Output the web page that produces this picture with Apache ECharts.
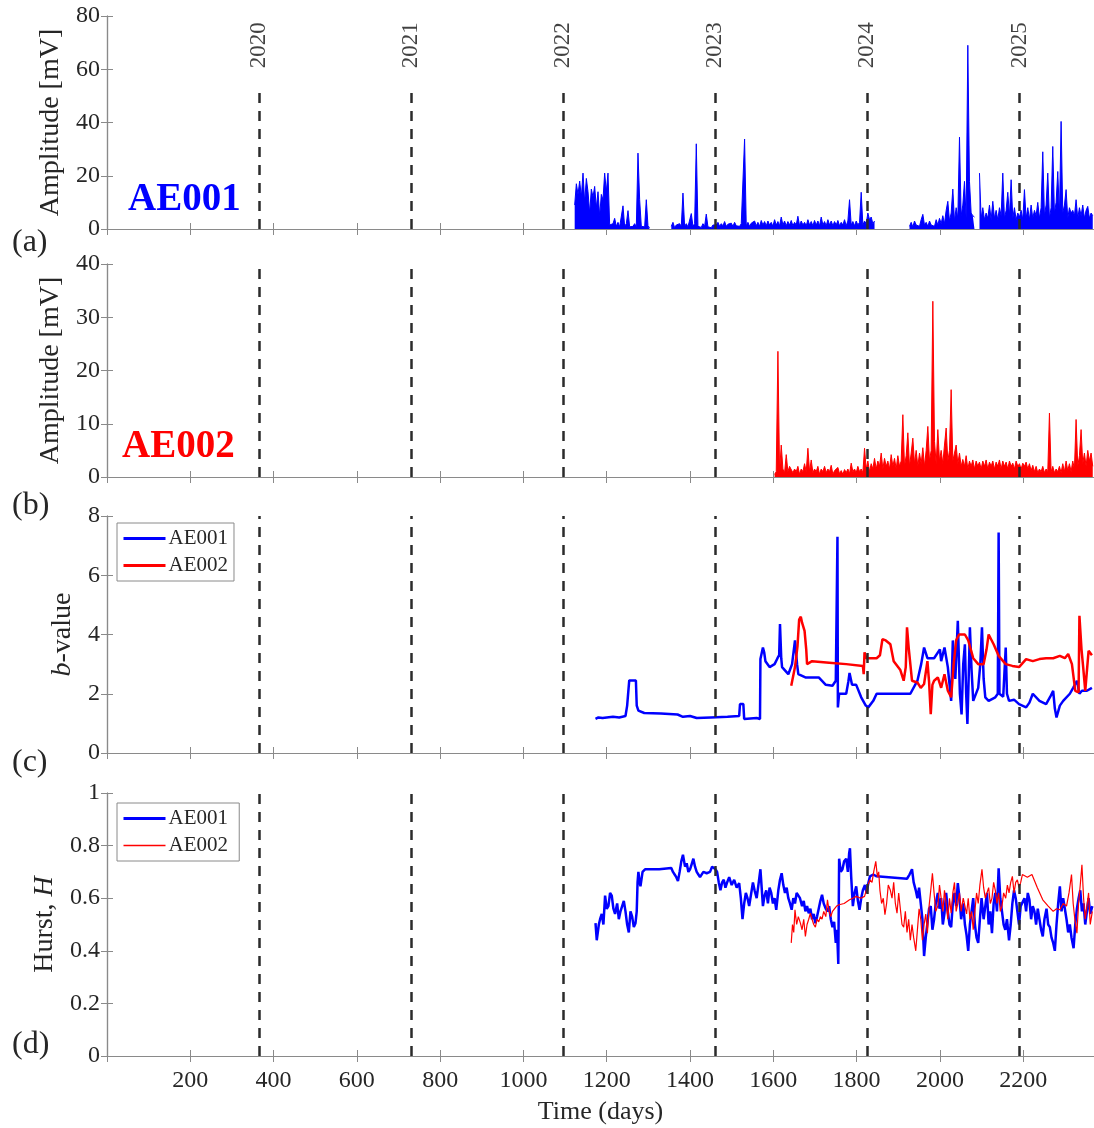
<!DOCTYPE html>
<html><head><meta charset="utf-8">
<script src="https://cdn.jsdelivr.net/npm/echarts@6/dist/echarts.min.js"></script>
<style>html,body{margin:0;padding:0;background:#fff}#c{width:1094px;height:1128px}</style>
</head><body><div id="c"></div><script>
// ---------------- DATA ----------------
const yearDays = [365, 730, 1096, 1461, 1826, 2191];
const yearLabels = ['2020', '2021', '2022', '2023', '2024', '2025'];

// AE001 amplitude (mV), sampled every 4 days from each segment start
const ampStep = 4;
const ae001AmpStarts = [1123, 1355, 1927, 2095];
const ae001AmpSeg1 = [9,17,13,18,12,21,10,19,14,6,15,12,16,8,14,5,13,11,21,14,21,
  1.5,0.8,2,4,1,2.5,0.8,1.5,8.7,1,2,6.9,0.8,1.5,1,2,0.8,28.5,11,1,1.5,0.8,11,1.2,0.5];
const ae001AmpSeg2 = [1,2.5,0.5,1.5,0.8,2,1,13.5,1,2,0.8,1.5,5.8,1,2,32,1,1.5,0.6,2,1,5.6,0.8,1.2,0.5,1.5,0.8,
  1.5,2.5,1,2,1.2,2.8,1,1.8,1.2,2.2,
  1,2.5,1.2,1.8,1,2,1.5,33.8,1.2,2.5,
  1,2.2,1.5,3,1.2,2.5,1,3.2,1.5,2.8,
  1.2,3,1.5,2.5,1,3.5,1.5,2.8,1.2,4.5,
  1.5,3,1.2,2.8,1.5,3.2,1.2,2.5,1.5,4.8,
  1.2,3,1.5,2.5,1.2,3.5,1.5,2.8,1.2,3.2,
  1.5,3,1.2,4.5,1.5,2.8,1.2,3.5,1.5,3,
  1.2,2.8,1.5,3.2,1.2,2.5,1.5,3.5,1.2,3,
  11,1.5,2.8,1.2,3,1.5,2.5,13.8,1.5,3,
  2,6,3.5,4.5,2,3];
const ae001AmpSeg3 = [1,2.5,0.8,3,1.5,2,1,3.5,5.5,1.5,
  2.5,1,3,1.5,2,1,3.5,1.5,4,2,
  5,2,7,10.4,3,6,15,3,8,4,
  34.5,5,9,17.9,4,69,17.9,6,5,4.5];
const ae001AmpSeg4 = [21,4,8,3.5,6,4,9,3.5,10.4,4,
  7,3.5,8,5,21,4,7,13.8,5,18.5,
  4,8,3.5,6,4.5,7,3.5,14.8,4,8,
  3.5,9,4,7,5,10,4,8,29,5,
  9,21,4,8,31,6,10,21.6,5,40.4,
  6,9,14.8,4,8,6,7,5,11,4,
  8,5,9,4,7,8.5,4,6,5];

// AE002 amplitude (mV), every 4 days from 1603
const ae002AmpStarts = [1603];
const ae002AmpSeg1 = [0.5,1,23.6,1,6,1.5,0.8,4.2,1,2,
  2.3,0.8,1.5,1,2,0.5,1.5,1,2.5,1,
  5.4,1,3.2,0.8,1.5,1,2,0.5,1.5,1,
  2,0.8,1.5,1,2.2,0.5,1.2,1,1.8,0.6,
  1.2,0.5,1.4,0.8,1.5,0.6,2.6,1,1.5,0.8,
  2,1,1.5,0.8,5.4,1.5,3,1,2.5,1.5,
  3.5,1.5,3,2,4.5,1.5,3.5,2,3,1.5,
  4.2,2,3.5,1.5,4,2,3,11.7,2,4,
  8.3,2,4.5,7.3,2.5,5,2,4.5,2.5,5.5,
  2,5,9.5,3,5,33,6.7,2.5,8.9,3,
  5,2.5,6,9.2,3,5,16.4,3,4.5,6,
  2.5,4.5,2,3.3,2,4,1.5,3,2,3.2,
  1.5,3,2,2.8,1.5,3,2,3.2,1.5,2.8,
  2,3,1.5,2.8,2,3.2,1.5,3,2,2.8,
  1.5,3,2,2.6,1.5,3,2,2.5,1.5,2.6,
  2,2.8,1.5,2.5,1.2,2.2,1,2,0.8,1.5,
  1,2,0.8,1.5,1,12,1,2,0.8,1.5,
  1,2,0.8,2.5,1,3,1.2,2.5,1,3,
  1.5,10.8,2,4,8.9,2.5,4.5,2,5,3,
  4.5,2];

// b-value [day, b]
const bAE001 = [[1173,1.15],[1180,1.2],[1190,1.18],[1200,1.2],[1215,1.22],[1230,1.2],[1245,1.25],[1249,1.6],[1252,1.6],[1254,2.45],[1270,2.45],[1272,1.6],[1276,1.43],[1290,1.35],[1330,1.33],[1370,1.3],[1383,1.22],[1400,1.25],[1416,1.18],[1450,1.2],[1490,1.22],[1518,1.25],[1520,1.65],[1528,1.65],[1530,1.15],[1560,1.18],[1568,1.15],[1569,3.17],[1575,3.56],[1578,3.4],[1581,3.1],[1591,2.9],[1603,3.0],[1610,3.2],[1614,3.3],[1616,4.35],[1619,3.2],[1621,2.9],[1636,2.66],[1645,3.0],[1652,3.8],[1657,3.0],[1660,2.66],[1677,2.55],[1709,2.55],[1726,2.3],[1742,2.27],[1750,2.44],[1753,2.44],[1754,7.3],[1755,1.54],[1758,2.0],[1775,2.0],[1780,2.4],[1783,2.7],[1789,2.3],[1799,2.3],[1811,1.88],[1815,1.9],[1822,1.6],[1828,1.54],[1840,1.76],[1848,2.0],[1929,2.0],[1946,2.44],[1955,3.0],[1962,3.56],[1970,3.2],[1986,3.2],[2000,3.5],[2003,3.1],[2011,3.56],[2019,2.9],[2027,1.76],[2031,3.8],[2037,2.5],[2043,4.46],[2048,2.0],[2052,1.3],[2056,3.0],[2060,3.67],[2063,2.0],[2066,0.98],[2069,2.5],[2072,4.24],[2076,2.8],[2080,1.76],[2092,2.2],[2097,3.0],[2101,4.24],[2105,2.5],[2109,1.88],[2117,1.76],[2133,1.88],[2139,2.0],[2141,7.44],[2143,2.0],[2145,2.0],[2152,1.9],[2158,3.56],[2161,2.0],[2166,1.76],[2178,1.8],[2190,1.65],[2207,1.54],[2215,1.7],[2223,2.0],[2239,1.76],[2255,1.65],[2265,1.9],[2272,2.1],[2276,1.5],[2280,1.2],[2288,1.6],[2296,1.76],[2312,2.0],[2320,2.2],[2329,2.44],[2335,2.0],[2341,2.1],[2353,2.1],[2365,2.2]];
const bAE002 = [[1643,2.27],[1652,2.9],[1658,3.6],[1662,4.5],[1666,4.6],[1669,4.4],[1675,4.12],[1679,3.5],[1681,3.0],[1693,3.1],[1734,3.05],[1775,3.0],[1815,2.94],[1817,2.66],[1819,3.4],[1823,3.2],[1848,3.2],[1856,3.3],[1862,3.84],[1870,3.8],[1881,3.67],[1889,3.1],[1905,2.8],[1913,2.44],[1918,2.9],[1921,4.24],[1925,3.56],[1933,2.44],[1946,2.38],[1954,2.2],[1962,2.33],[1970,3.1],[1974,2.4],[1978,1.31],[1982,2.3],[1986,2.44],[1995,2.55],[2003,2.2],[2011,2.66],[2019,2.1],[2027,1.88],[2033,3.0],[2039,3.8],[2046,4.0],[2052,4.0],[2060,4.0],[2068,3.8],[2080,3.2],[2092,3.0],[2105,3.0],[2112,3.5],[2117,4.0],[2129,3.67],[2141,3.28],[2158,3.0],[2174,2.94],[2190,2.9],[2207,3.17],[2223,3.1],[2239,3.17],[2255,3.2],[2272,3.2],[2288,3.28],[2300,3.2],[2308,3.34],[2317,3.0],[2325,2.1],[2333,2.05],[2335,4.63],[2340,3.5],[2344,2.9],[2349,2.1],[2357,3.45],[2365,3.3]];

// Hurst exponent [day, H]
const hAE001 = [[1173,0.505],[1176,0.44],[1178,0.435],[1181,0.50],[1184,0.52],[1188,0.54],[1192,0.50],[1196,0.61],[1200,0.56],[1204,0.57],[1208,0.62],[1212,0.61],[1216,0.56],[1220,0.54],[1225,0.58],[1229,0.52],[1233,0.55],[1237,0.57],[1241,0.59],[1245,0.55],[1249,0.50],[1253,0.47],[1257,0.55],[1261,0.53],[1265,0.49],[1269,0.505],[1272,0.55],[1274,0.66],[1276,0.70],[1279,0.66],[1281,0.645],[1286,0.70],[1292,0.71],[1326,0.71],[1355,0.715],[1359,0.70],[1363,0.69],[1367,0.68],[1371,0.665],[1375,0.70],[1379,0.74],[1383,0.765],[1388,0.72],[1392,0.733],[1396,0.70],[1400,0.71],[1404,0.73],[1408,0.75],[1412,0.72],[1416,0.70],[1420,0.69],[1424,0.68],[1432,0.70],[1440,0.695],[1448,0.70],[1453,0.72],[1457,0.727],[1461,0.71],[1465,0.70],[1469,0.66],[1473,0.63],[1477,0.66],[1481,0.67],[1485,0.64],[1489,0.66],[1494,0.68],[1500,0.65],[1506,0.67],[1512,0.64],[1518,0.657],[1522,0.60],[1526,0.52],[1530,0.58],[1534,0.62],[1538,0.60],[1542,0.57],[1547,0.62],[1551,0.66],[1555,0.63],[1560,0.60],[1565,0.66],[1569,0.71],[1572,0.64],[1575,0.57],[1579,0.61],[1583,0.63],[1587,0.58],[1591,0.64],[1595,0.62],[1599,0.58],[1603,0.60],[1607,0.556],[1612,0.63],[1616,0.67],[1620,0.695],[1624,0.65],[1628,0.62],[1632,0.64],[1636,0.60],[1640,0.58],[1644,0.556],[1648,0.60],[1652,0.58],[1656,0.62],[1660,0.625],[1664,0.60],[1669,0.57],[1673,0.59],[1677,0.55],[1681,0.57],[1685,0.543],[1689,0.56],[1693,0.52],[1697,0.54],[1701,0.505],[1705,0.53],[1709,0.56],[1713,0.59],[1717,0.613],[1721,0.58],[1726,0.56],[1730,0.55],[1734,0.57],[1738,0.52],[1742,0.49],[1746,0.51],[1750,0.43],[1753,0.48],[1756,0.35],[1758,0.75],[1762,0.70],[1766,0.71],[1770,0.74],[1775,0.75],[1779,0.70],[1782,0.77],[1784,0.79],[1787,0.68],[1791,0.57],[1795,0.62],[1799,0.645],[1803,0.59],[1807,0.556],[1811,0.60],[1815,0.63],[1820,0.65],[1824,0.62],[1828,0.657],[1832,0.683],[1840,0.69],[1848,0.683],[1921,0.674],[1927,0.69],[1933,0.71],[1937,0.66],[1942,0.63],[1946,0.60],[1950,0.64],[1954,0.58],[1958,0.52],[1962,0.38],[1966,0.45],[1970,0.505],[1974,0.56],[1978,0.57],[1982,0.48],[1986,0.52],[1990,0.58],[1995,0.62],[1999,0.56],[2003,0.60],[2007,0.50],[2011,0.543],[2015,0.62],[2019,0.55],[2023,0.50],[2027,0.49],[2031,0.58],[2035,0.62],[2039,0.57],[2043,0.657],[2047,0.60],[2051,0.52],[2056,0.58],[2060,0.50],[2064,0.46],[2068,0.40],[2072,0.50],[2076,0.55],[2080,0.60],[2084,0.50],[2088,0.45],[2092,0.43],[2096,0.52],[2100,0.60],[2105,0.52],[2109,0.57],[2113,0.62],[2117,0.50],[2121,0.55],[2125,0.467],[2129,0.58],[2133,0.62],[2137,0.55],[2141,0.714],[2145,0.60],[2149,0.55],[2153,0.50],[2157,0.48],[2161,0.52],[2166,0.44],[2170,0.50],[2174,0.58],[2178,0.63],[2182,0.60],[2186,0.55],[2190,0.50],[2194,0.57],[2198,0.57],[2203,0.60],[2207,0.55],[2211,0.62],[2215,0.594],[2219,0.52],[2223,0.57],[2227,0.55],[2231,0.50],[2235,0.56],[2239,0.52],[2243,0.48],[2247,0.455],[2251,0.52],[2256,0.56],[2260,0.50],[2264,0.49],[2268,0.45],[2272,0.43],[2276,0.40],[2280,0.50],[2284,0.58],[2288,0.645],[2292,0.55],[2296,0.60],[2300,0.56],[2304,0.52],[2308,0.47],[2312,0.50],[2316,0.45],[2321,0.41],[2325,0.50],[2329,0.56],[2333,0.60],[2337,0.63],[2341,0.55],[2345,0.58],[2349,0.50],[2353,0.55],[2357,0.60],[2361,0.54],[2366,0.57]];
const hAE002 = [[1643,0.43],[1646,0.50],[1649,0.47],[1652,0.556],[1656,0.50],[1660,0.53],[1665,0.505],[1669,0.48],[1673,0.52],[1677,0.455],[1681,0.50],[1685,0.52],[1689,0.543],[1693,0.52],[1697,0.50],[1701,0.49],[1705,0.52],[1709,0.51],[1713,0.53],[1717,0.52],[1721,0.55],[1726,0.53],[1730,0.594],[1734,0.55],[1738,0.53],[1742,0.55],[1746,0.556],[1752,0.57],[1758,0.575],[1770,0.58],[1783,0.594],[1791,0.60],[1799,0.607],[1810,0.60],[1819,0.607],[1825,0.64],[1832,0.67],[1837,0.66],[1841,0.70],[1846,0.74],[1850,0.68],[1853,0.70],[1856,0.63],[1860,0.58],[1864,0.60],[1868,0.537],[1872,0.58],[1876,0.65],[1881,0.63],[1885,0.60],[1889,0.66],[1893,0.58],[1897,0.543],[1901,0.62],[1905,0.56],[1909,0.50],[1913,0.49],[1917,0.55],[1921,0.47],[1925,0.52],[1929,0.44],[1933,0.50],[1937,0.45],[1942,0.40],[1946,0.48],[1950,0.56],[1954,0.52],[1958,0.44],[1962,0.50],[1966,0.54],[1970,0.467],[1974,0.57],[1978,0.63],[1982,0.695],[1986,0.62],[1990,0.55],[1995,0.57],[1999,0.65],[2003,0.60],[2007,0.55],[2011,0.63],[2015,0.58],[2019,0.52],[2023,0.60],[2027,0.543],[2031,0.62],[2035,0.66],[2039,0.55],[2043,0.58],[2047,0.62],[2051,0.55],[2056,0.60],[2060,0.594],[2064,0.54],[2068,0.60],[2072,0.52],[2076,0.55],[2080,0.48],[2084,0.55],[2088,0.62],[2092,0.58],[2096,0.65],[2101,0.71],[2105,0.64],[2109,0.60],[2113,0.594],[2117,0.64],[2121,0.58],[2125,0.60],[2129,0.66],[2133,0.63],[2137,0.58],[2141,0.62],[2145,0.55],[2149,0.57],[2153,0.62],[2158,0.60],[2162,0.65],[2166,0.62],[2170,0.66],[2174,0.683],[2178,0.62],[2182,0.66],[2186,0.67],[2190,0.64],[2194,0.66],[2198,0.69],[2210,0.68],[2221,0.69],[2234,0.64],[2247,0.594],[2260,0.57],[2272,0.55],[2280,0.56],[2288,0.556],[2296,0.58],[2304,0.57],[2310,0.62],[2316,0.69],[2320,0.58],[2324,0.52],[2329,0.467],[2333,0.58],[2337,0.65],[2341,0.727],[2345,0.60],[2349,0.52],[2353,0.52],[2357,0.62],[2361,0.50],[2366,0.55]];

const yRanges = [[0, 80, 20], [0, 40, 10], [0, 8, 2], [0, 1, 0.2]];
const xRange = [0, 2370];

// ---------------- CHART ----------------
const FONT = "'Liberation Serif','Times New Roman',serif";
const BLUE = '#0000ff', RED = '#ff0000';
const AXC = '#8a8a8a', TXT = '#262626';

function segs(starts, arrays, step) {
  const out = [];
  arrays.forEach((arr, k) => {
    if (k > 0) out.push([starts[k], null]);
    arr.forEach((v, i) => out.push([starts[k] + step * i, v]));
  });
  return out;
}

const L = 107, W = 989;
const grids = [
  {left: L, top: 16, width: W, height: 213},
  {left: L, top: 264, width: W, height: 213},
  {left: L, top: 516, width: W, height: 237},
  {left: L, top: 793, width: W, height: 263}
];

const xAxis = [], yAxis = [];
grids.forEach((g, i) => {
  const base = {type: 'value', gridIndex: i, min: xRange[0], max: xRange[1], interval: 200,
    splitLine: {show: false}, axisLine: {show: true, lineStyle: {color: AXC, width: 1.2}},
    axisTick: {show: true, inside: true, length: 6, lineStyle: {color: AXC}}};
  xAxis.push(Object.assign({}, base, {position: 'bottom',
    axisLabel: {show: i === 3, fontFamily: FONT, fontSize: 24, color: TXT, margin: 13,
      showMinLabel: false, showMaxLabel: false, formatter: v => String(v)},
    name: i === 3 ? 'Time (days)' : '', nameLocation: 'middle', nameGap: 43,
    nameTextStyle: {fontFamily: FONT, fontSize: 26, color: TXT}}));
  xAxis.push(Object.assign({}, base, {position: 'top', axisLabel: {show: false}}));
  const r = yRanges[i];
  const yb = {type: 'value', gridIndex: i, min: r[0], max: r[1], interval: r[2],
    splitLine: {show: false}, axisLine: {show: true, lineStyle: {color: AXC, width: 1.2}},
    axisTick: {show: true, inside: true, length: 6, lineStyle: {color: AXC}}};
  const names = ['Amplitude [mV]', 'Amplitude [mV]', '{i|b}-value', 'Hurst, {i|H}'];
  const gaps = [36, 36, 26, 46];
  yAxis.push(Object.assign({}, yb, {position: 'left',
    axisLabel: {fontFamily: FONT, fontSize: 24, color: TXT, margin: 7},
    name: names[i], nameLocation: 'middle', nameGap: gaps[i],
    nameTextStyle: {fontFamily: FONT, fontSize: 28, color: TXT,
      rich: {i: {fontFamily: FONT, fontSize: 28, fontStyle: 'italic', color: TXT}}}}));
  yAxis.push(Object.assign({}, yb, {position: 'right', axisLabel: {show: false}}));
});

const DASH = {type: [10, 8], color: '#2b2b2b', width: 2.5};
const yearTopA = 53;
function yearLines(full) {
  return {silent: true, symbol: ['none', 'none'], label: {show: false}, lineStyle: DASH, z: 10,
    data: full ? yearDays.map(d => ({xAxis: d}))
               : yearDays.map(d => [{coord: [d, 0]}, {coord: [d, yearTopA]}])};
}

const series = [
  {name: 'amp1', type: 'line', xAxisIndex: 0, yAxisIndex: 0, symbol: 'none', z: 2,
   data: segs(ae001AmpStarts, [ae001AmpSeg1, ae001AmpSeg2, ae001AmpSeg3, ae001AmpSeg4], ampStep),
   lineStyle: {color: BLUE, width: 1}, itemStyle: {color: BLUE},
   areaStyle: {color: BLUE, opacity: 1}, markLine: yearLines(false)},
  {name: 'years', type: 'scatter', xAxisIndex: 0, yAxisIndex: 0, symbolSize: 1, silent: true,
   itemStyle: {color: 'rgba(0,0,0,0)'},
   data: yearDays.map((d, k) => [d, 69, yearLabels[k]]),
   label: {show: true, position: 'inside', rotate: 90, formatter: p => p.data[2],
     fontFamily: FONT, fontSize: 23, color: '#111'}},
  {name: 'amp2', type: 'line', xAxisIndex: 2, yAxisIndex: 2, symbol: 'none', z: 2,
   data: segs(ae002AmpStarts, [ae002AmpSeg1], ampStep),
   lineStyle: {color: RED, width: 1}, itemStyle: {color: RED},
   areaStyle: {color: RED, opacity: 1}, markLine: yearLines(true)},
  {name: 'AE001', type: 'line', xAxisIndex: 4, yAxisIndex: 4, symbol: 'none', z: 3,
   data: bAE001, lineStyle: {color: BLUE, width: 2.5}, itemStyle: {color: BLUE},
   markLine: yearLines(true)},
  {name: 'AE002', type: 'line', xAxisIndex: 4, yAxisIndex: 4, symbol: 'none', z: 3,
   data: bAE002, lineStyle: {color: RED, width: 2.5}, itemStyle: {color: RED}},
  {name: 'AE001 ', type: 'line', xAxisIndex: 6, yAxisIndex: 6, symbol: 'none', z: 3,
   data: hAE001, lineStyle: {color: BLUE, width: 2.5}, itemStyle: {color: BLUE},
   markLine: yearLines(true)},
  {name: 'AE002 ', type: 'line', xAxisIndex: 6, yAxisIndex: 6, symbol: 'none', z: 4,
   data: hAE002, lineStyle: {color: RED, width: 1.2}, itemStyle: {color: RED}}
];

const legBase = {orient: 'vertical', left: 117, itemWidth: 42, itemHeight: 22, itemGap: 6,
  padding: [5, 6, 5, 5], borderColor: '#8a8a8a', borderWidth: 1, backgroundColor: '#fff',
  borderRadius: 0, selectedMode: false, itemStyle: {opacity: 0},
  textStyle: {fontFamily: FONT, fontSize: 21, color: TXT, padding: [0, 0, 0, -2]}};

const T = (text, x, y, size, color, bold) => ({type: 'text', left: x, top: y,
  style: {text, font: `${bold ? 'bold ' : ''}${size}px ${FONT}`, fill: color}});

const chart = echarts.init(document.getElementById('c'), null, {renderer: 'canvas'});
chart.setOption({
  animation: false,
  backgroundColor: '#fff',
  grid: grids,
  xAxis, yAxis, series,
  legend: [
    Object.assign({}, legBase, {top: 523, data: [
      {name: 'AE001', lineStyle: {width: 3, color: BLUE}},
      {name: 'AE002', lineStyle: {width: 3, color: RED}}]}),
    Object.assign({}, legBase, {top: 803, data: [
      {name: 'AE001 ', lineStyle: {width: 3, color: BLUE}},
      {name: 'AE002 ', lineStyle: {width: 1.5, color: RED}}]})
  ],
  graphic: [
    T('(a)', 12, 227, 32, TXT), T('(b)', 12, 490, 32, TXT),
    T('(c)', 12, 747, 32, TXT), T('(d)', 12, 1029, 32, TXT),
    T('AE001', 128, 180, 39, BLUE, true), T('AE002', 122, 427, 39, RED, true)
  ]
});
</script></body></html>
